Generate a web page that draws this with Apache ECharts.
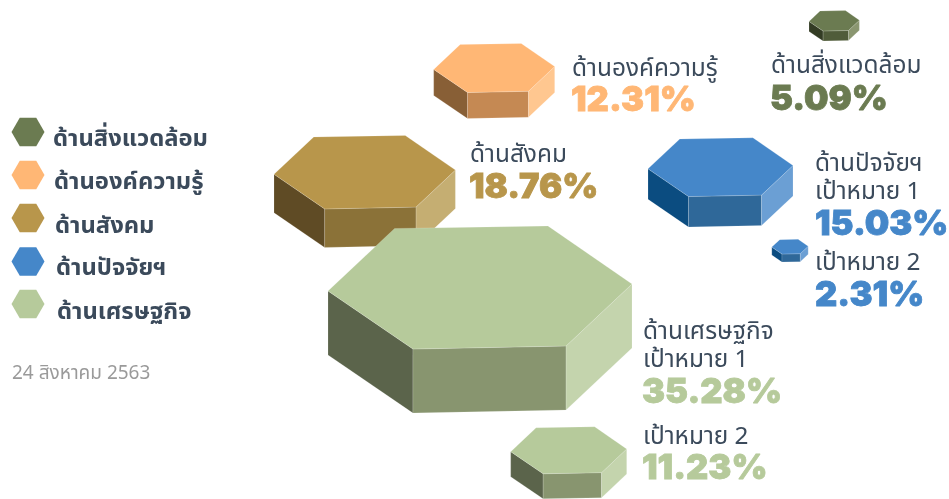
<!DOCTYPE html>
<html><head><meta charset="utf-8">
<style>html,body{margin:0;padding:0;background:#fff}#c{width:949px;height:499px}</style>
<script src="https://cdn.jsdelivr.net/npm/echarts@6/dist/echarts.min.js"></script>
</head><body><div id="c"></div>
<script>
// Data
const categories = ['ด้านสิ่งแวดล้อม', 'ด้านองค์ความรู้', 'ด้านสังคม', 'ด้านปัจจัยฯ', 'ด้านเศรษฐกิจ'];
const targetOne = 'เป้าหมาย 1';
const targetTwo = 'เป้าหมาย 2';
const dateLabel = '24 สิงหาคม 2563';
const markCategory = [0, 1, 2, 3, 3, 4, 4];
const markValues = [5.09, 12.31, 18.76, 15.03, 2.31, 35.28, 11.23];
const markCaptions = [
  [categories[0]], [categories[1]], [categories[2]],
  [categories[3], targetOne], [targetTwo],
  [categories[4], targetOne], [targetTwo]
];

// Layout (separate from data)
const markX = [834.2, 494.2, 364.7, 720.5, 790, 480, 568.7];
const markY = [20.8, 68, 172.2, 167.2, 246.7, 287.5, 450.3];
const markHalfWidth = [25.2, 60.5, 90.7, 72.5, 18.2, 152, 58];
const markDepth = [10, 26, 38.5, 30.5, 8, 64, 25];
const captionX = [771, 572, 470, 815, 815, 643, 643];
const captionY = [66, 69, 155, 164, 263, 332, 437];
const valueX = [770, 571, 469, 815, 815, 642, 642];
const valueY = [100, 101, 188, 225, 296, 393, 469];
const legendHexX = [28, 28, 28, 28, 28];
const legendHexY = [132, 175, 218, 261.5, 304];
const legendTextX = [53, 54, 55, 56, 57];
const legendTextY = [139, 182, 226, 268, 312];

// Palette per category: top, left, front, right
const palette = [
  ['#6b7b51', '#333c24', '#505c3a', '#8a9670'],
  ['#ffb775', '#885f36', '#c58953', '#ffc790'],
  ['#b8964b', '#5f4b25', '#8b7238', '#c5ae72'],
  ['#4587c9', '#0b4c80', '#2f6899', '#6b9fd4'],
  ['#b6ca9b', '#5b644b', '#88956f', '#c4d4ad']
];
const ink = '#3b4a5b';
const thaiFont = '"Noto Sans", "Noto Sans Thai", "Liberation Sans", sans-serif';
const numFont = 'Inter, "Noto Sans", sans-serif';

// Unit hexagon shape (fraction of half width), clockwise from upper-left
const hexShape = [[-0.562, -0.388], [0.447, -0.405], [1, -0.023], [0.566, 0.385], [-0.441, 0.405], [-1, 0.023]];

function prism(params, api) {
  const i = params.dataIndex;
  const c = api.coord([api.value(0), api.value(1)]);
  const hw = api.size([api.value(2), 0])[0];
  const d = api.size([0, api.value(3)])[1];
  const col = palette[markCategory[i]];
  const top = hexShape.map(p => [c[0] + p[0] * hw, c[1] + p[1] * hw]);
  const dn = p => [p[0], p[1] + d];
  const face = (pts, fill) => ({
    type: 'polygon', shape: { points: pts },
    style: { fill, stroke: 'rgba(255,255,255,0.25)', lineWidth: 0.6 }
  });
  return {
    type: 'group',
    children: [
      face([top[5], top[4], dn(top[4]), dn(top[5])], col[1]),
      face([top[4], top[3], dn(top[3]), dn(top[4])], col[2]),
      face([top[3], top[2], dn(top[2]), dn(top[3])], col[3]),
      face(top, col[0])
    ]
  };
}

function txt(x, y, text, fontSize, fill, fontFamily, fontWeight, strokeWidth) {
  const style = { x, y, text, fontSize, fill, fontFamily, fontWeight, align: 'left', verticalAlign: 'middle' };
  if (strokeWidth) { style.stroke = fill; style.lineWidth = strokeWidth; }
  return { type: 'text', style };
}

function markLabels(params, api) {
  const i = params.dataIndex;
  const c = api.coord([api.value(0), api.value(1)]);
  const v = api.coord([api.value(2), api.value(3)]);
  const children = markCaptions[i].map((t, k) => txt(c[0], c[1] + k * 28.5, t, 24.4, ink, thaiFont, 400));
  children.push(txt(v[0], v[1], markValues[i].toFixed(2) + '%', 34.5, palette[markCategory[i]][0], numFont, 900, 0.8));
  return { type: 'group', children };
}

function legendItem(params, api) {
  const i = params.dataIndex;
  const c = api.coord([api.value(0), api.value(1)]);
  const t = api.coord([api.value(2), api.value(3)]);
  const w = 16.5, h = 14.3;
  const pts = [[-w, 0], [-w / 2, -h], [w / 2, -h], [w, 0], [w / 2, h], [-w / 2, h]].map(p => [c[0] + p[0], c[1] + p[1]]);
  return {
    type: 'group',
    children: [
      { type: 'polygon', shape: { points: pts }, style: { fill: palette[i][0] } },
      txt(t[0], t[1], categories[i], 23.8, ink, thaiFont, 700)
    ]
  };
}

const chart = echarts.init(document.getElementById('c'), null, { renderer: 'canvas' });
chart.setOption({
  animation: false,
  backgroundColor: '#ffffff',
  tooltip: { show: false },
  grid: { left: 0, right: 0, top: 0, bottom: 0 },
  xAxis: { type: 'value', min: 0, max: 949, show: false },
  yAxis: { type: 'value', min: 0, max: 499, inverse: true, show: false },
  graphic: [{
    type: 'text', left: 12, top: 364,
    style: { text: dateLabel, fontSize: 19, fill: '#9a9a9a', fontFamily: thaiFont }
  }],
  series: [
    {
      type: 'custom', coordinateSystem: 'cartesian2d', renderItem: prism, silent: true, clip: false,
      data: markValues.map((_, i) => [markX[i], markY[i], markHalfWidth[i], markDepth[i]])
    },
    {
      type: 'custom', coordinateSystem: 'cartesian2d', renderItem: markLabels, silent: true, clip: false,
      data: markValues.map((_, i) => [captionX[i], captionY[i], valueX[i], valueY[i]])
    },
    {
      type: 'custom', coordinateSystem: 'cartesian2d', renderItem: legendItem, silent: true, clip: false,
      data: categories.map((_, i) => [legendHexX[i], legendHexY[i], legendTextX[i], legendTextY[i]])
    }
  ]
});
</script></body></html>
